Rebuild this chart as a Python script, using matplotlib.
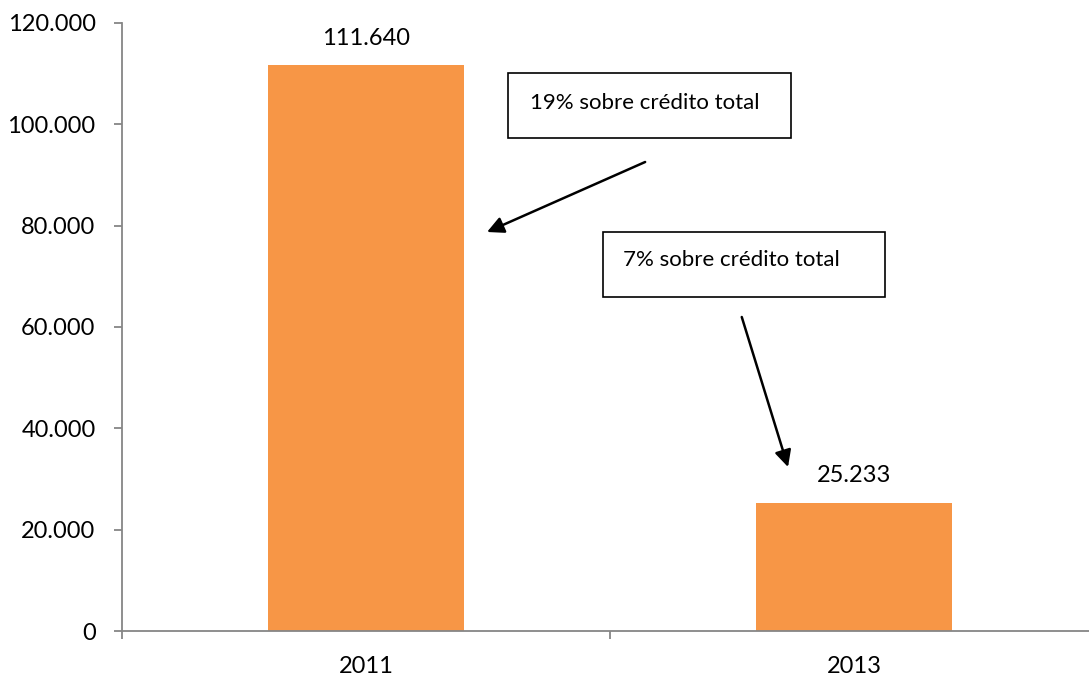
import matplotlib
matplotlib.use("Agg")
import matplotlib.pyplot as plt
from matplotlib.ticker import FuncFormatter, FixedLocator

plt.rcParams['font.family'] = ['Lato', 'DejaVu Sans']

# datos
anios = ['2011', '2013']
valores = [111640, 25233]
notas = ['19% sobre crédito total', '7% sobre crédito total']

color_barra = '#F79646'
gris = '#868686'


def miles(v, pos=None):
    return f"{int(round(v)):,}".replace(",", ".")


fig = plt.figure(figsize=(10.89, 6.77), dpi=100)
W, H = 1089, 677
# el eje x continua un poco mas alla del borde derecho
ax = fig.add_axes([122 / W, (H - 631) / H, 976 / W, 608 / H])

x = range(len(anios))
bars = ax.bar(x, valores, width=0.4, color=color_barra, zorder=2)

ax.set_xlim(-0.5, 1.5)
ax.set_ylim(0, 120000)
ax.set_yticks(range(0, 120001, 20000))
ax.yaxis.set_major_formatter(FuncFormatter(miles))
ax.set_xticks(list(x))
ax.set_xticklabels(anios)
ax.xaxis.set_minor_locator(FixedLocator([-0.5, 0.5, 1.5]))

for s in ['top', 'right']:
    ax.spines[s].set_visible(False)
for s in ['left', 'bottom']:
    ax.spines[s].set_color(gris)
    ax.spines[s].set_linewidth(1.3)

ax.tick_params(axis='y', length=6, width=1.3, color=gris, labelsize=17, pad=13)
ax.tick_params(axis='x', which='major', length=0, labelsize=17, pad=18)
ax.tick_params(axis='x', which='minor', length=6, width=1.3, color=gris)

# etiquetas de valor
for b, v in zip(bars, valores):
    ax.annotate(miles(v), (b.get_x() + b.get_width() / 2, v),
                xytext=(0, 12), textcoords='offset points',
                ha='center', va='bottom', fontsize=17)

# cajas de texto
cajas = [(0.291, 97303, 0.580, 12829), (0.486, 65921, 0.578, 12829)]
pos_texto = [(0.336, 104300), (0.527, 73200)]
for (bx, by, bw, bh), (tx, ty), nota in zip(cajas, pos_texto, notas):
    ax.add_patch(plt.Rectangle((bx, by), bw, bh, facecolor='white',
                               edgecolor='black', linewidth=1.2, zorder=3))
    ax.text(tx, ty, nota, fontsize=16, va='center', ha='left', zorder=4)

# flechas
flechas = [((0.572, 92566), (0.248, 78750)),
           ((0.770, 61974), (0.8648, 32368))]
for ini, fin in flechas:
    ax.annotate('', xy=fin, xytext=ini,
                arrowprops=dict(arrowstyle='-|>', color='black', lw=1.8,
                                mutation_scale=25, shrinkA=0, shrinkB=0),
                zorder=4)

fig.savefig('out.png', dpi=100)
